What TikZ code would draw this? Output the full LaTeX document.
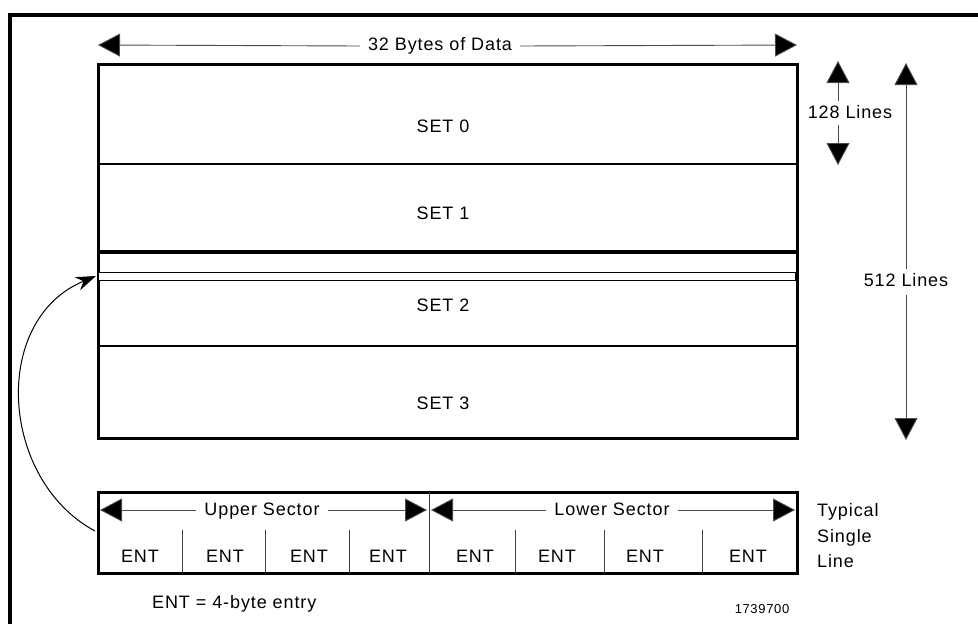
\documentclass[tikz,border=0pt]{standalone}
\usepackage{fontspec}
\setmainfont{Liberation Sans}[LetterSpace=5]
\usetikzlibrary{arrows.meta}
\begin{document}
\begin{tikzpicture}[x=1pt,y=-1pt,
  box/.style={draw,line width=3pt},
  sep/.style={draw,line width=2.5pt},
  tick/.style={draw=black!75,line width=0.9pt},
  dim/.style={draw=black!70,line width=0.9pt,-{Triangle[width=23pt,length=22pt,fill=black]}},
  lbl/.style={font=\fontsize{18}{20}\selectfont,inner sep=2pt,text height=13pt,text depth=4pt},
  gap/.style={lbl,fill=white,inner xsep=8pt},
  small/.style={font=\fontsize{13}{15}\selectfont,inner sep=1pt}]
\useasboundingbox (0,0) rectangle (978,624);
% frame
\draw[line width=4pt] (10,626) -- (10,15) -- (980,15);
% main array
\draw[box] (98,64) rectangle (797,438);
\draw[sep] (98,164) -- (797,164);
\draw[line width=3.5pt] (98,252) -- (797,252);
\draw[sep] (98,346) -- (797,346);
\draw[line width=1pt,fill=white] (98,272.5) rectangle (795,280);
\coordinate (single) at (96,276);
\node[lbl] (s0) at (443,128) {SET 0};
\node[lbl] (s1) at (443,215) {SET 1};
\node[lbl] (s2) at (443,307) {SET 2};
\node[lbl] (s3) at (443,405) {SET 3};
% width dimension
\coordinate (wl) at (98,45);
\coordinate (wr) at (797,45);
\node[gap] (wlab) at (440,46) {32 Bytes of Data};
\draw[dim] (wlab.west) -- (wl);
\draw[dim] (wlab.east) -- (wr);
% 128 lines
\coordinate (t1) at (838,61);
\coordinate (b1) at (838,165);
\node[lbl,fill=white,inner ysep=1pt] (l128) at (850,114) {128 Lines};
\draw[dim] (838,101) -- (t1);
\draw[dim] (838,125) -- (b1);
% 512 lines
\coordinate (t2) at (906,63);
\coordinate (b2) at (906,440);
\node[lbl,fill=white,inner ysep=4pt] (l512) at (906,282) {512 Lines};
\draw[dim] (l512.north) -- (t2);
\draw[dim] (l512.south) -- (b2);
% single line detail
\draw[box] (98,492) rectangle (797,573);
\draw[tick] (429,492) -- (429,573);
\foreach \x in {182,265,349,515,604,702}
  \draw[tick] (\x,530) -- (\x,573);
\node[gap] (up) at (262,511) {Upper Sector};
\node[gap] (lo) at (612,511) {Lower Sector};
\coordinate (ul) at (100,510);
\coordinate (ur) at (427,510);
\coordinate (ll) at (431,510);
\coordinate (lr) at (795,510);
\draw[dim] (up.west |- ul) -- (ul);
\draw[dim] (up.east |- ur) -- (ur);
\draw[dim] (lo.west |- ll) -- (ll);
\draw[dim] (lo.east |- lr) -- (lr);
\foreach \x/\n in {140/e1,225/e2,309/e3,388/e4,475/e5,557/e6,645/e7,748/e8}
  \node[lbl] (\n) at (\x,558) {ENT};
\node[lbl,anchor=west] (ty) at (815,512) {Typical};
\node[lbl,anchor=west] (si) at (815,538) {Single};
\node[lbl,anchor=west] (li) at (815,563) {Line};
\coordinate (from) at (95,531);
\draw[line width=1pt,-{Stealth[length=20pt,width=14pt]}] (from) .. controls (0,480) and (-10,320) .. (single);
% notes
\node[lbl,anchor=west] (note) at (150,604) {ENT = 4-byte entry};
\node[small] (fig) at (762,609) {1739700};
\end{tikzpicture}
\end{document}
